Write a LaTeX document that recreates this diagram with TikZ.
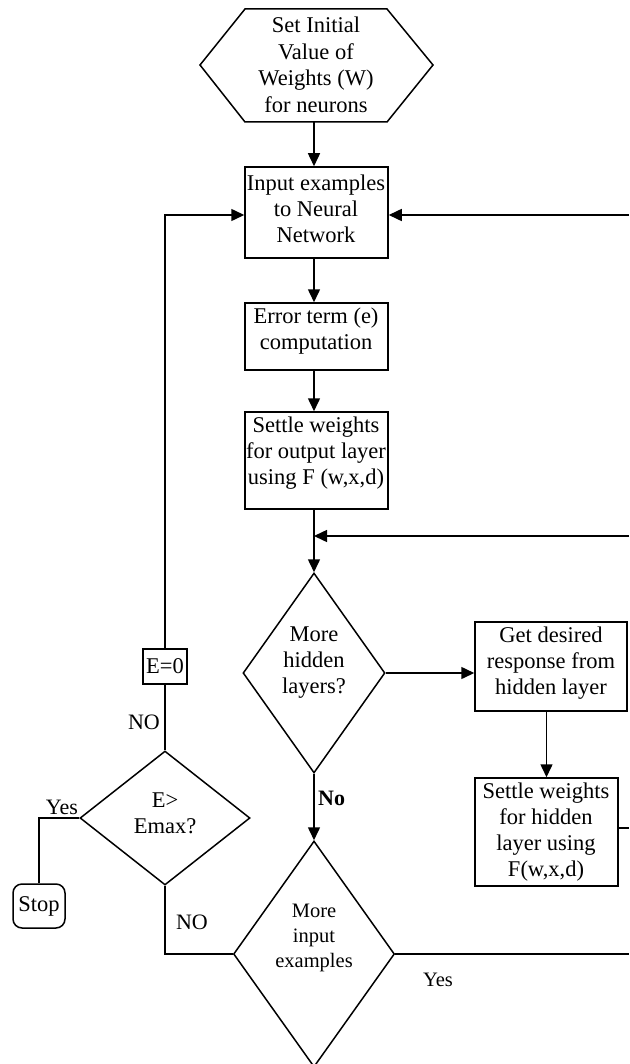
\documentclass[tikz,border=0pt]{standalone}
\usepackage{fontspec}
\setmainfont{Liberation Serif}
\usetikzlibrary{arrows.meta,shapes.geometric,calc}
\begin{document}
\begin{tikzpicture}[x=1pt,y=-1pt,
  ln/.style={line width=1.5pt},
  arr/.style={line width=1.5pt,-{Triangle[length=13pt,width=12pt]}},
  box/.style={draw,line width=1.5pt,rectangle,inner sep=0pt},
  dia/.style={draw,line width=1.5pt,diamond,inner sep=0pt},
  txt/.style={align=center,inner sep=0pt,font=\fontsize{22.5}{26}\selectfont},
  stxt/.style={align=center,inner sep=0pt,font=\fontsize{20.5}{25}\selectfont},
  lbl/.style={inner sep=0pt,font=\fontsize{22}{26}\selectfont}]
\useasboundingbox (0,0) rectangle (629,1064);
% column and edge coordinates
\coordinate (col) at (314,0);
\coordinate (hexb) at (314,122);
\coordinate (rtop) at (629,215);
\coordinate (rmid) at (629,536);
\coordinate (jn) at (314,536);
\coordinate (rsh) at (629,828);
\coordinate (rinp) at (629,954);
% hexagon
\draw[ln] (200,65) -- (245,9) -- (387,9) -- (433,65) -- (387,122) -- (245,122) -- cycle;
\node[txt,align=center,font=\fontsize{22.5}{26.5}\selectfont] (hex) at (316,65) {Set Initial\\Value of\\Weights (W)\\for neurons};
% boxes
\node[box,minimum width=143pt,minimum height=91pt] (in) at (316.5,212.5) {};
\node[txt] (intx) at (316,209) {Input examples\\to Neural\\Network};
\node[box,minimum width=143pt,minimum height=67pt] (err) at (316.5,336.5) {};
\node[txt] (errtx) at (316,331) {Error term (e)\\computation};
\node[box,minimum width=143pt,minimum height=97pt] (sout) at (316.5,460.5) {};
\node[txt] (souttx) at (316,453) {Settle weights\\for output layer\\using F (w,x,d)};
\node[dia,minimum width=142pt,minimum height=200pt] (hid) at (314,673) {};
\node[txt] (hidtx) at (314,663) {More\\hidden\\layers?};
\node[box,minimum width=152pt,minimum height=89pt] (get) at (551,666.5) {};
\node[txt] (gettx) at (551,663) {Get desired\\response from\\hidden layer};
\node[box,minimum width=143pt,minimum height=108pt] (shid) at (546.5,832) {};
\node[txt] (shidtx) at (546,832) {Settle weights\\for hidden\\layer using\\F(w,x,d)};
\node[dia,minimum width=161pt,minimum height=226pt] (inp) at (314,954) {};
\node[stxt] (inptx) at (314,938) {More\\input\\examples};
\node[dia,minimum width=170pt,minimum height=134pt] (emax) at (165,818) {};
\node[txt] (emaxtx) at (165,813) {E>\\Emax?};
\node[box,minimum width=44pt,minimum height=35pt,font=\fontsize{22.5}{26}\selectfont] (e0) at (165,666.5) {E=0};
\node[box,rounded corners=9pt,minimum width=52pt,minimum height=44pt,font=\fontsize{22.5}{26}\selectfont] (stop) at (39,906) {Stop};
% labels
\node[inner sep=0pt,anchor=west,font=\fontsize{22}{26}\selectfont\bfseries] (lno) at (318,798) {No};
\node[inner sep=0pt,font=\fontsize{20.5}{25}\selectfont] (lyes1) at (438,980) {Yes};
\node[lbl] (lno2) at (192,922) {NO};
\node[lbl] (lyes2) at (62,807) {Yes};
\node[lbl] (lno3) at (144,722) {NO};
% connectors
\draw[arr] (hexb) -- (hexb |- in.north);
\draw[arr] (in.south -| col) -- (err.north -| col);
\draw[arr] (err.south -| col) -- (sout.north -| col);
\draw[arr] (sout.south -| col) -- (hid.north);
\draw[arr] (rmid) -- (jn);
\draw[arr] (hid.east) -- (get.west |- hid.east);
\draw[arr] (get.south -| shid.north) -- (shid.north);
\draw[ln] (shid.east |- rsh) -- (rsh);
\draw[arr] (hid.south) -- (inp.north);
\draw[ln] (inp.east) -- (rinp);
\draw[ln] (inp.west) -| (emax.south);
\draw[ln] (emax.west) -| (stop.north);
\draw[ln] (emax.north) -- (e0.south);
\draw[arr] (e0.north) |- (in.west |- rtop);
\draw[arr] (rtop) -- (in.east |- rtop);
\end{tikzpicture}
\end{document}
